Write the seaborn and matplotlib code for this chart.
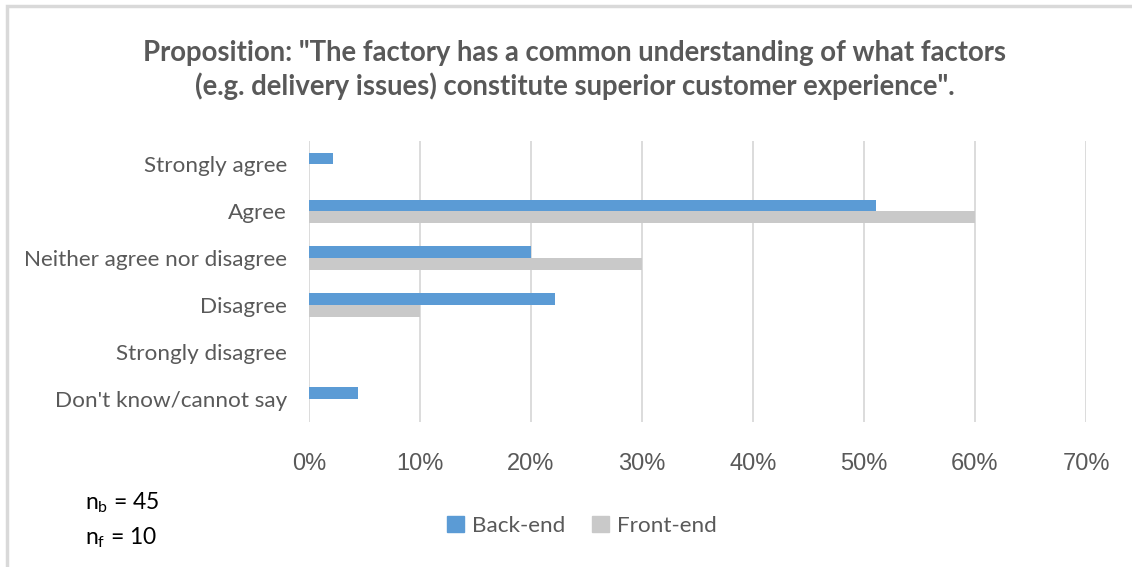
import matplotlib
matplotlib.use("Agg")
import matplotlib.pyplot as plt
import matplotlib.patches as mpatches
import seaborn as sns
import pandas as pd

# Survey responses (% of respondents)
categories = ["Strongly agree", "Agree", "Neither agree nor disagree",
              "Disagree", "Strongly disagree", "Don't know/cannot say"]
back_end = [2.2, 51.1, 20.0, 22.2, 0.0, 4.4]
front_end = [0.0, 60.0, 30.0, 10.0, 0.0, 0.0]
groups = ["Back-end", "Front-end"]
x_ticks = [0, 10, 20, 30, 40, 50, 60, 70]
n_back = 45
n_front = 10

title = ('Proposition: "The factory has a common understanding of what factors\n'
         '(e.g. delivery issues) constitute superior customer experience".')

df = pd.DataFrame({
    "category": categories * 2,
    "group": [groups[0]] * len(categories) + [groups[1]] * len(categories),
    "value": back_end + front_end,
})

sns.set_theme(style="white")
plt.rcParams["font.family"] = ["Lato", "DejaVu Sans"]
plt.rcParams["mathtext.default"] = "regular"

TEXT = "#595959"
BLUE = "#5B9BD5"
GREY = "#C9C9C9"

fig = plt.figure(figsize=(11.32, 5.67), dpi=100)
ax = fig.add_axes([309 / 1132, 1 - 422 / 567, (1086 - 309) / 1132, (422 - 141) / 567])

sns.barplot(data=df, y="category", x="value", hue="group", orient="h",
            order=categories, hue_order=groups, palette=[BLUE, GREY],
            width=0.5, saturation=1, linewidth=0, ax=ax, legend=False)

ax.set_xlim(0, 70)
ax.set_xticks(x_ticks)
ax.set_xticklabels([f"{t}%" for t in x_ticks], family="Liberation Sans",
                   fontsize=17, color=TEXT)
ax.tick_params(axis="x", length=0, pad=22)
ax.tick_params(axis="y", length=0, pad=16, labelsize=16.2, labelcolor=TEXT)
ax.set_xlabel("")
ax.set_ylabel("")
ax.xaxis.grid(True, color="#D9D9D9", linewidth=1.3)
ax.set_axisbelow(True)
for s in ax.spines.values():
    s.set_visible(False)

fig.text(575 / 1132, 1 - 70 / 567, title, ha="center", va="center",
         fontsize=19.8, fontweight="bold", color=TEXT, linespacing=1.32)

handles = [mpatches.Patch(color=BLUE, label=groups[0]),
           mpatches.Patch(color=GREY, label=groups[1])]
fig.legend(handles=handles, loc="center", bbox_to_anchor=(582 / 1132, 1 - 526 / 567),
           ncol=2, frameon=False, fontsize=16.2, labelcolor=TEXT,
           handlelength=0.75, handleheight=0.75, handletextpad=0.35, columnspacing=1.2)

fig.text(85 / 1132, 1 - 503 / 567, f"n$_b$ = {n_back}", ha="left", va="center",
         fontsize=16.5, color="black")
fig.text(85 / 1132, 1 - 538 / 567, f"n$_f$ = {n_front}", ha="left", va="center",
         fontsize=16.5, color="black")

# Chart frame visible along the top and left edges
fig.patches.append(mpatches.Rectangle((7 / 1132, -0.1), 1.2, 1 - 6 / 567 + 0.1,
                                      transform=fig.transFigure, fill=False,
                                      edgecolor="#D9D9D9", linewidth=2.5))

fig.savefig("out.png", dpi=100)
